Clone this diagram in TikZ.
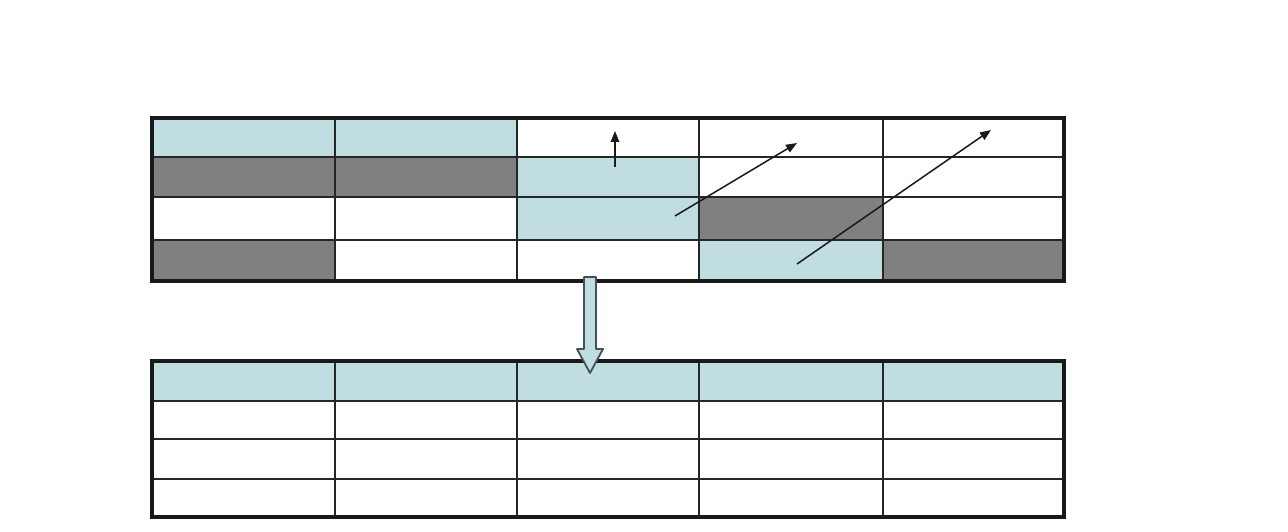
\documentclass[tikz,border=0pt]{standalone}
\usetikzlibrary{arrows.meta}
\definecolor{cellblue}{RGB}{192,222,226}
\definecolor{cellgray}{RGB}{128,128,128}
\definecolor{arrowedge}{RGB}{70,80,82}
\begin{document}
\begin{tikzpicture}[x=1pt,y=-1pt,
  inner/.style={line width=1.9pt,black!85},
  outer/.style={line width=3.8pt,black!90},
  flow/.style={line width=1.5pt,black!90,-{Triangle[length=11pt,width=8.5pt]}},
  bigarrow/.style={fill=cellblue,draw=arrowedge,line width=1.8pt,line join=round}]
\useasboundingbox (0,0) rectangle (1288,532);
\fill[white] (0,0) rectangle (1288,532);
% ---- top table fills
\fill[cellblue] (152,118) rectangle (517,157);
\fill[cellgray] (152,157) rectangle (517,197);
\fill[cellblue] (517,157) rectangle (699,240);
\fill[cellgray] (699,197) rectangle (883,240);
\fill[cellgray] (152,240) rectangle (335,281);
\fill[cellblue] (699,240) rectangle (883,281);
\fill[cellgray] (883,240) rectangle (1064,281);
% ---- top table grid
\foreach \y in {157,197,240} \draw[inner] (152,\y) -- (1064,\y);
\foreach \x in {335,517,699,883} \draw[inner] (\x,118) -- (\x,281);
\draw[outer] (152,118) rectangle (1064,281);
% ---- bottom table fills
\fill[cellblue] (152,361) rectangle (1064,401);
\foreach \y in {401,439,479} \draw[inner] (152,\y) -- (1064,\y);
\foreach \x in {335,517,699,883} \draw[inner] (\x,361) -- (\x,517);
\draw[outer] (152,361) rectangle (1064,517);
% ---- arrows in top table
\coordinate (a1s) at (615,167); \coordinate (a1e) at (615,131);
\coordinate (a2s) at (675,216); \coordinate (a2e) at (797,143);
\coordinate (a3s) at (797,264); \coordinate (a3e) at (991,130);
\draw[flow] (a1s) -- (a1e);
\draw[flow] (a2s) -- (a2e);
\draw[flow] (a3s) -- (a3e);
% ---- block arrow
\draw[bigarrow] (584,279) -- (584,277) -- (596,277) -- (596,349) -- (603,349) -- (590,373) -- (577,349) -- (584,349) -- cycle;
\end{tikzpicture}
\end{document}
